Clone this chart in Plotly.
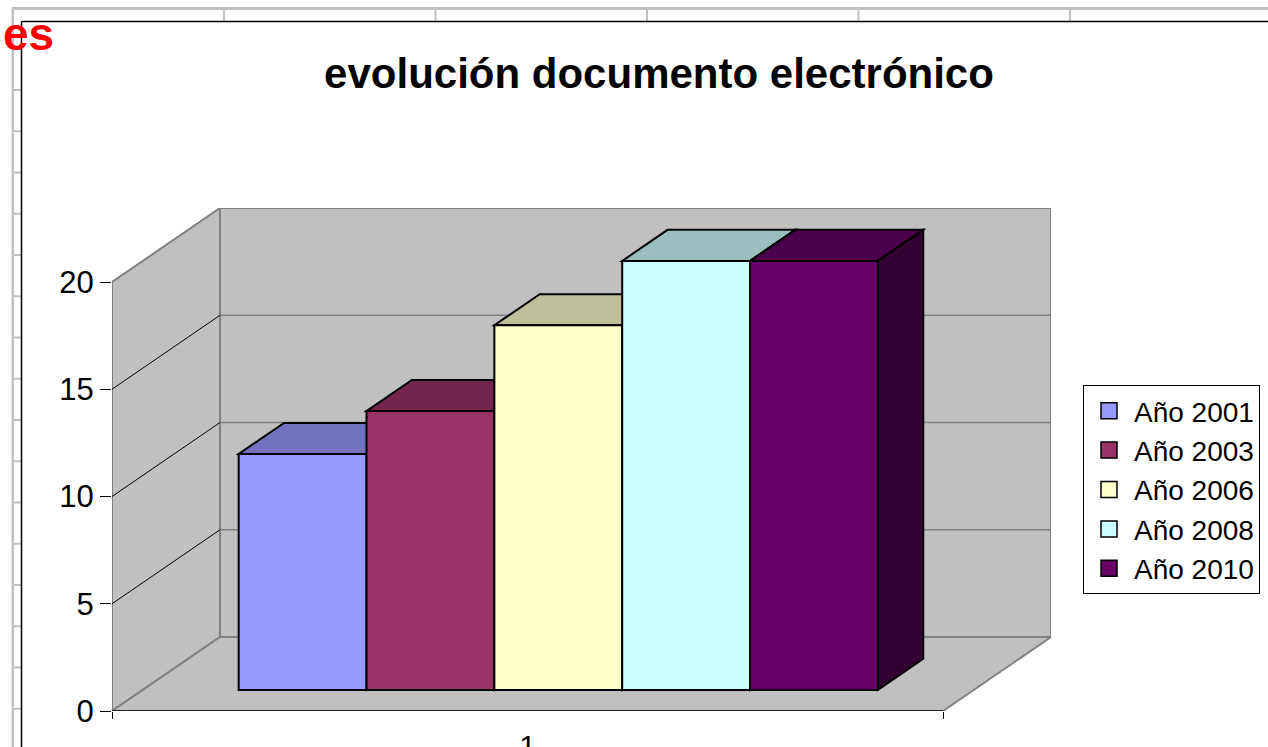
import plotly.graph_objects as go

# ---------------- data ----------------
CATEGORIES = ["1"]
SERIES = ["Año 2001", "Año 2003", "Año 2006", "Año 2008", "Año 2010"]
VALUES = [11, 13, 17, 20, 20]
Y_TICKS = [0, 5, 10, 15, 20]
TITLE = "evolución documento electrónico"

# ---------------- style ----------------
COLORS = ["#9999FF", "#993366", "#FFFFCC", "#CCFFFF", "#660066"]
FONT = "Liberation Sans, Arial, sans-serif"
W, H = 1268, 747
ML, MR, MT, MB = 112, 217, 208, 36
PW, PH = W - ML - MR, H - MT - MB

Y_MAX = 20
DDX = 108 / 831          # depth shift in category-width units
DDY = 74 / 21.45         # depth shift in value units
GAP_WIDTH = 1.5
DEPTH_FRONT = 0.285
BAR_DEPTH = 0.42
WALL = "#C0C0C0"
EDGE = "#808080"


def shade(hex_color, k):
    h = hex_color.lstrip("#")
    r, g, b = (int(h[i:i + 2], 16) for i in (0, 2, 4))
    return "#%02X%02X%02X" % (int(r * k), int(g * k), int(b * k))


def px_x(px):
    return (px - ML) / PW


def px_y(py):
    return (H - MB - py) / PH


def path(points):
    return "M " + " L ".join(f"{x},{y}" for x, y in points) + " Z"


shapes = []


def dshape(pts, fill, line_color, line_width, closed=True):
    d = path(pts) if closed else "M " + " L ".join(f"{x},{y}" for x, y in pts)
    shapes.append(dict(type="path", path=d, xref="x", yref="y", layer="below",
                       fillcolor=fill if closed else None,
                       line=dict(color=line_color, width=line_width)))


# walls and floor
dshape([(0, 0), (0, Y_MAX), (DDX, Y_MAX + DDY), (DDX, DDY)], WALL, EDGE, 2)
dshape([(DDX, DDY), (DDX, Y_MAX + DDY), (1 + DDX, Y_MAX + DDY), (1 + DDX, DDY)], WALL, EDGE, 2)
dshape([(0, 0), (1, 0), (1 + DDX, DDY), (DDX, DDY)], WALL, EDGE, 2)
for v in Y_TICKS[1:-1]:
    dshape([(0, v), (DDX, v + DDY)], None, "#000000", 1, closed=False)
    dshape([(DDX, v + DDY), (1 + DDX, v + DDY)], None, EDGE, 1.5, closed=False)
# front floor edge (category axis line)
dshape([(0, 0), (1, 0)], None, "#000000", 1.5, closed=False)

# bars
n = len(VALUES)
w = 1 / (n + GAP_WIDTH)
base = DEPTH_FRONT * DDY
bdx, bdy = BAR_DEPTH * DDX, BAR_DEPTH * DDY
traces = []
for i, (name, v, c) in enumerate(zip(SERIES, VALUES, COLORS)):
    left = GAP_WIDTH / 2 * w + i * w + DEPTH_FRONT * DDX
    top = base + v
    # top face
    dshape([(left, top), (left + w, top), (left + w + bdx, top + bdy), (left + bdx, top + bdy)],
           shade(c, 0.75), "#000000", 2)
    # side face
    dshape([(left + w, base), (left + w + bdx, base + bdy), (left + w + bdx, top + bdy), (left + w, top)],
           shade(c, 0.5), "#000000", 2)
    traces.append(go.Bar(x=[0.5], y=[v], base=[base], width=[w], offset=[left - 0.5],
                         marker=dict(color=c, line=dict(color="#000000", width=2)),
                         showlegend=False, hoverinfo="skip"))
    traces.append(go.Scatter(x=[None], y=[None], mode="markers", name=name,
                             marker=dict(symbol="square", size=16, color=c,
                                         line=dict(color="#000000", width=1.5))))

fig = go.Figure(traces)

# page decorations (ruler + chart border)
deco = []
def pline(x0, y0, x1, y1, color, width):
    deco.append(dict(type="line", xref="paper", yref="paper", layer="above",
                     x0=px_x(x0), y0=px_y(y0), x1=px_x(x1), y1=px_y(y1),
                     line=dict(color=color, width=width)))

pline(12, 8.5, W + 5, 8.5, "#C0C0C0", 3)
pline(12.8, 7, 12.8, H + 5, "#C0C0C0", 2.5)
for k in range(6):
    x = 224 + k * 211.5
    pline(x, 8.5, x, 21, "#C0C0C0", 2)
for k in range(18):
    y = 48.75 + k * 41.25
    pline(12.8, y, 21, y, "#C0C0C0", 2)
pline(21.5, 21.5, W + 5, 21.5, "#000000", 1.5)
pline(21.5, 21.5, 21.5, H + 5, "#000000", 1.5)

fig.update_layout(
    width=W, height=H,
    margin=dict(l=ML, r=MR, t=MT, b=MB, autoexpand=False),
    paper_bgcolor="#FFFFFF", plot_bgcolor="#FFFFFF",
    barmode="overlay",
    font=dict(family=FONT, color="#000000"),
    title=dict(text="<b>" + TITLE + "</b>", font=dict(family=FONT, size=42, color="#000000"),
               x=659 / W, xref="container", xanchor="center",
               y=1 - 73 / H, yref="container", yanchor="middle"),
    xaxis=dict(range=[0, 1 + DDX], tickvals=[0.5], ticktext=CATEGORIES, ticks="",
               showgrid=False, zeroline=False, showline=False,
               tickfont=dict(size=30, family=FONT), ticklabelstandoff=14,
               minor=dict(tickmode="array", tickvals=[0, 1], ticks="outside", ticklen=7,
                          tickcolor="#000000", tickwidth=1, showgrid=False)),
    yaxis=dict(range=[0, Y_MAX + DDY], tickvals=Y_TICKS, ticks="outside", ticklen=11,
               tickcolor="#000000", tickwidth=1, showgrid=False, zeroline=False,
               showline=False, tickfont=dict(size=31, family=FONT)),
    legend=dict(x=px_x(1083), y=px_y(385), xanchor="left", yanchor="top",
                bgcolor="#FFFFFF", bordercolor="#000000", borderwidth=1,
                font=dict(size=28, family=FONT, color="#000000"),
                itemsizing="trace", tracegroupgap=0, itemwidth=40),
    shapes=shapes + deco,
    annotations=[dict(text="<b>es</b>", xref="paper", yref="paper",
                      x=px_x(1), y=px_y(34), xanchor="left", yanchor="middle",
                      showarrow=False, font=dict(family=FONT, size=46, color="#FF0000"))],
)

fig.write_html("out.html", config={"displayModeBar": False},
               post_script="document.body.style.margin='0';document.body.style.overflow='hidden';")
